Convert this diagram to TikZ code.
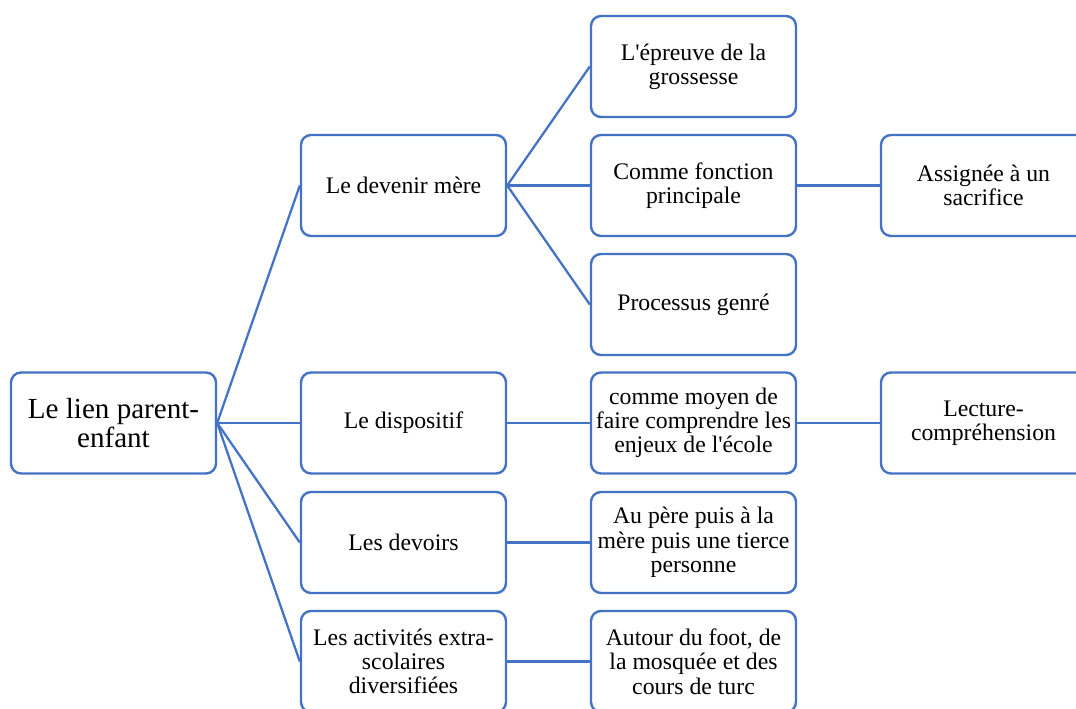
\documentclass[tikz,border=0pt]{standalone}
\usepackage{fontspec}
\setmainfont{Liberation Serif}[Ligatures=TeXOff]
\definecolor{bl}{HTML}{4472C4}
\begin{document}
\begin{tikzpicture}[x=0.75pt,y=-0.75pt,
  box/.style={draw=bl,line width=1.8pt,rounded corners=7.5pt,fill=white,
    minimum width=205*0.75pt,minimum height=101*0.75pt,align=center,
    font=\fontsize{17.8}{18.2}\selectfont,inner sep=0pt},
  rootbox/.style={box,font=\fontsize{21.8}{21.5}\selectfont},
  conn/.style={draw=bl,line width=1.7pt}]
\clip (0,0) rectangle (1076,709);
\fill[white] (0,0) rectangle (1076,709);
\node[rootbox] (r) at (113.5,423) {Le lien parent-\\enfant};
\node[box] (a) at (403.5,185.5) {Le devenir mère};
\node[box] (b) at (403.5,423) {Le dispositif};
\node[box] (c) at (403.5,542.5) {Les devoirs};
\node[box] (d) at (403.5,661.5) {Les activités extra-\\scolaires\\diversifiées};
\node[box] (a1) at (693.5,66.5) {L'épreuve de la\\grossesse};
\node[box] (a2) at (693.5,185.5) {Comme fonction\\principale};
\node[box] (a3) at (693.5,304.5) {Processus genré};
\node[box] (b1) at (693.5,423) {comme moyen de\\faire comprendre les\\enjeux de l'école};
\node[box] (c1) at (693.5,542.5) {Au père puis à la\\mère puis une tierce\\personne};
\node[box] (d1) at (693.5,661.5) {Autour du foot, de\\la mosquée et des\\cours de turc};
\node[box] (a2x) at (983.5,185.5) {Assignée à un\\sacrifice};
\node[box] (b1x) at (983.5,423) {Lecture-\\compréhension};
\foreach \t in {a,b,c,d} \draw[conn] (r.east) -- (\t.west);
\foreach \t in {a1,a2,a3} \draw[conn] (a.east) -- (\t.west);
\draw[conn] (b.east) -- (b1.west);
\draw[conn] (c.east) -- (c1.west);
\draw[conn] (d.east) -- (d1.west);
\draw[conn] (a2.east) -- (a2x.west);
\draw[conn] (b1.east) -- (b1x.west);
\end{tikzpicture}
\end{document}
